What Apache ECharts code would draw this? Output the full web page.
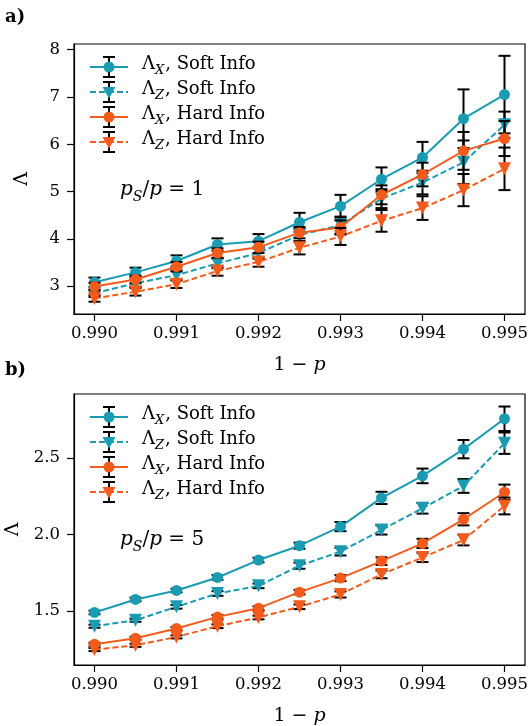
<!DOCTYPE html>
<html>
<head>
<meta charset="utf-8">
<script src="https://cdn.jsdelivr.net/npm/echarts@6/dist/echarts.min.js"></script>
<style>
  html, body { margin: 0; padding: 0; background: #fff; }
  #main { width: 528px; height: 726px; }
</style>
</head>
<body>
<div id="main"></div>
<script>
// x positions (1 - p)
var xVals = [0.990, 0.9905, 0.991, 0.9915, 0.992, 0.9925, 0.993, 0.9935, 0.994, 0.9945, 0.995];
var xTicks = [0.990, 0.991, 0.992, 0.993, 0.994, 0.995];
var topTicks = [3, 4, 5, 6, 7, 8];
var botTicks = [1.5, 2.0, 2.5];

// panel a) pS/p = 1
var aXSoft = [3.08, 3.29, 3.53, 3.88, 3.95, 4.35, 4.69, 5.26, 5.72, 6.54, 7.05];
var aXSoftErr = [0.1, 0.1, 0.12, 0.13, 0.15, 0.2, 0.24, 0.25, 0.33, 0.62, 0.82];
var aZSoft = [2.85, 3.06, 3.23, 3.48, 3.70, 4.08, 4.29, 4.85, 5.19, 5.62, 6.41];
var aZSoftErr = [0.08, 0.08, 0.1, 0.1, 0.12, 0.14, 0.18, 0.2, 0.25, 0.46, 0.28];
var aXHard = [2.99, 3.14, 3.41, 3.70, 3.82, 4.13, 4.24, 4.93, 5.36, 5.86, 6.12];
var aXHardErr = [0.08, 0.08, 0.1, 0.1, 0.12, 0.12, 0.15, 0.2, 0.25, 0.4, 0.37];
var aZHard = [2.74, 2.88, 3.04, 3.32, 3.51, 3.81, 4.05, 4.38, 4.65, 5.03, 5.48];
var aZHardErr = [0.07, 0.08, 0.08, 0.1, 0.1, 0.14, 0.18, 0.23, 0.25, 0.34, 0.45];

// panel b) pS/p = 5
var bXSoft = [1.49, 1.575, 1.634, 1.719, 1.833, 1.927, 2.052, 2.24, 2.384, 2.559, 2.758];
var bXSoftErr = [0.012, 0.012, 0.012, 0.015, 0.015, 0.02, 0.03, 0.04, 0.048, 0.06, 0.08];
var bZSoft = [1.40, 1.439, 1.527, 1.614, 1.664, 1.796, 1.888, 2.03, 2.172, 2.318, 2.598];
var bZSoftErr = [0.01, 0.01, 0.012, 0.015, 0.015, 0.02, 0.025, 0.03, 0.035, 0.045, 0.07];
var bXHard = [1.282, 1.321, 1.385, 1.461, 1.518, 1.623, 1.715, 1.826, 1.942, 2.1, 2.277];
var bXHardErr = [0.01, 0.01, 0.01, 0.012, 0.012, 0.015, 0.02, 0.025, 0.03, 0.04, 0.05];
var bZHard = [1.247, 1.275, 1.33, 1.40, 1.457, 1.527, 1.608, 1.739, 1.85, 1.964, 2.187];
var bZHardErr = [0.01, 0.01, 0.01, 0.012, 0.012, 0.015, 0.02, 0.025, 0.03, 0.035, 0.055];

var TEAL = '#1a9bb1';
var ORANGE = '#f25b1c';
var FONT = 'DejaVu Serif';

var entries = [
  {sub: 'X', name: 'Soft Info', color: TEAL, dashed: false, sym: 'circle'},
  {sub: 'Z', name: 'Soft Info', color: TEAL, dashed: true, sym: 'triangle'},
  {sub: 'X', name: 'Hard Info', color: ORANGE, dashed: false, sym: 'circle'},
  {sub: 'Z', name: 'Hard Info', color: ORANGE, dashed: true, sym: 'triangle'}
];
var panelA = [[aXSoft, aXSoftErr], [aZSoft, aZSoftErr], [aXHard, aXHardErr], [aZHard, aZHardErr]];
var panelB = [[bXSoft, bXSoftErr], [bZSoft, bZSoftErr], [bXHard, bXHardErr], [bZHard, bZHardErr]];

var grids = [
  {left: 74, top: 44, width: 451, height: 270},
  {left: 74, top: 394, width: 451, height: 271}
];

var myChart = echarts.init(document.getElementById('main'));

function errItem(params, api) {
  var x = api.value(0);
  var top = api.coord([x, api.value(2)]);
  var bot = api.coord([x, api.value(1)]);
  var st = {stroke: '#000', lineWidth: 2};
  return {
    type: 'group',
    children: [
      {type: 'line', shape: {x1: top[0], y1: top[1], x2: bot[0], y2: bot[1]}, style: st},
      {type: 'line', shape: {x1: top[0] - 6, y1: top[1], x2: top[0] + 6, y2: top[1]}, style: st},
      {type: 'line', shape: {x1: bot[0] - 6, y1: bot[1], x2: bot[0] + 6, y2: bot[1]}, style: st}
    ]
  };
}

var series = [];
[panelA, panelB].forEach(function (panel, g) {
  panel.forEach(function (d, i) {
    var e = entries[i];
    var vals = d[0], errs = d[1];
    series.push({
      type: 'custom',
      xAxisIndex: g, yAxisIndex: g,
      z: 2 + 2 * i,
      renderItem: errItem,
      encode: {x: 0, y: [1, 2]},
      data: xVals.map(function (x, k) { return [x, vals[k] - errs[k], vals[k] + errs[k]]; })
    });
    series.push({
      type: 'line',
      xAxisIndex: g, yAxisIndex: g,
      z: 3 + 2 * i,
      symbol: e.sym,
      symbolRotate: e.sym === 'triangle' ? 180 : 0,
      symbolSize: e.sym === 'triangle' ? 13 : 11,
      showAllSymbol: true,
      itemStyle: {color: e.color, borderWidth: 0},
      lineStyle: {color: e.color, width: 2, type: e.dashed ? [6, 3] : 'solid'},
      animation: false,
      data: xVals.map(function (x, k) { return [x, vals[k]]; })
    });
  });
});

function xAxis(g) {
  return {
    type: 'value', gridIndex: g,
    min: 0.98975, max: 0.99525,
    name: '{n|1 − }{i|p}',
    nameLocation: 'middle', nameGap: 42,
    nameTextStyle: {rich: {n: {fontFamily: FONT, fontSize: 19, color: '#000'}, i: {fontFamily: FONT, fontSize: 19, fontStyle: 'italic', color: '#000'}}},
    splitLine: {show: false},
    axisLine: {show: true, lineStyle: {color: '#000', width: 1.2}},
    axisTick: {show: true, length: 7, customValues: xTicks, lineStyle: {color: '#000', width: 1.2}},
    axisLabel: {customValues: xTicks, margin: 11, fontFamily: FONT, fontSize: 16.5, color: '#000',
      formatter: function (v) { return v.toFixed(3); }}
  };
}
function yAxis(g, min, max, ticks, dec) {
  return {
    type: 'value', gridIndex: g, min: min, max: max,
    name: 'Λ', nameLocation: 'middle', nameGap: 42, nameRotate: 90,
    nameTextStyle: {fontFamily: FONT, fontSize: 19, color: '#000'},
    splitLine: {show: false},
    axisLine: {show: true, lineStyle: {color: '#000', width: 1.2}},
    axisTick: {show: true, length: 7, customValues: ticks, lineStyle: {color: '#000', width: 1.2}},
    axisLabel: {customValues: ticks, margin: 14, fontFamily: FONT, fontSize: 16.5, color: '#000',
      formatter: function (v) { return v.toFixed(dec); }}
  };
}

// legend and annotations drawn as graphics
var graphics = [
  {type: 'text', left: 5, top: 8, style: {text: 'a)', font: 'bold 18px "DejaVu Serif"', fill: '#000'}},
  {type: 'text', left: 5, top: 361, style: {text: 'b)', font: 'bold 18px "DejaVu Serif"', fill: '#000'}}
];
var notes = ['1', '5'];
grids.forEach(function (gr, g) {
  entries.forEach(function (e, i) {
    var y = gr.top + 23 + 25 * i;
    var st = {stroke: '#000', lineWidth: 2};
    graphics.push({type: 'line', z: 10, shape: {x1: 90, y1: y, x2: 128, y2: y},
      style: {stroke: e.color, lineWidth: 2, lineDash: e.dashed ? [6, 3] : null}});
    graphics.push({type: 'line', z: 10, shape: {x1: 109, y1: y - 10, x2: 109, y2: y + 10}, style: st});
    graphics.push({type: 'line', z: 10, shape: {x1: 103, y1: y - 10, x2: 115, y2: y - 10}, style: st});
    graphics.push({type: 'line', z: 10, shape: {x1: 103, y1: y + 10, x2: 115, y2: y + 10}, style: st});
    if (e.sym === 'circle') {
      graphics.push({type: 'circle', z: 11, shape: {cx: 109, cy: y, r: 5.5}, style: {fill: e.color}});
    } else {
      graphics.push({type: 'polygon', z: 11, shape: {points: [[102.5, y - 5], [115.5, y - 5], [109, y + 6.5]]}, style: {fill: e.color}});
    }
    graphics.push({type: 'text', z: 11, left: 142, top: y - 12,
      style: {
        text: '{l|Λ}{s|' + e.sub + '}{t|, ' + e.name + '}',
        rich: {
          l: {fontFamily: FONT, fontSize: 18, fill: '#000', lineHeight: 23, verticalAlign: 'top'},
          s: {fontFamily: FONT, fontSize: 13, fontStyle: 'italic', fill: '#000', lineHeight: 23, verticalAlign: 'top', padding: [9, 1, 0, 0]},
          t: {fontFamily: FONT, fontSize: 18, fill: '#000', lineHeight: 23, verticalAlign: 'top'}
        }
      }});
  });
  graphics.push({type: 'text', z: 11, left: 120, top: gr.top + 136,
    style: {
      text: '{p|p}{s|S}{t|/}{p|p}{t| = ' + notes[g] + '}',
      rich: {
        p: {fontFamily: FONT, fontSize: 20, fontStyle: 'italic', fill: '#000', lineHeight: 25, verticalAlign: 'top'},
        s: {fontFamily: FONT, fontSize: 14, fontStyle: 'italic', fill: '#000', lineHeight: 25, verticalAlign: 'top', padding: [10, 0, 0, 0]},
        t: {fontFamily: FONT, fontSize: 20, fill: '#000', lineHeight: 25, verticalAlign: 'top'}
      }
    }});
});

var option = {
  backgroundColor: '#fff',
  animation: false,
  grid: grids.map(function (g) {
    return {left: g.left, top: g.top, width: g.width, height: g.height, show: true,
      outerBoundsMode: 'none', containLabel: false,
      borderColor: '#000', borderWidth: 1.2, backgroundColor: 'transparent'};
  }),
  xAxis: [xAxis(0), xAxis(1)],
  yAxis: [yAxis(0, 2.41, 8.12, topTicks, 0), yAxis(1, 1.146, 2.92, botTicks, 1)],
  graphic: graphics,
  series: series
};
myChart.setOption(option);
</script>
</body>
</html>
